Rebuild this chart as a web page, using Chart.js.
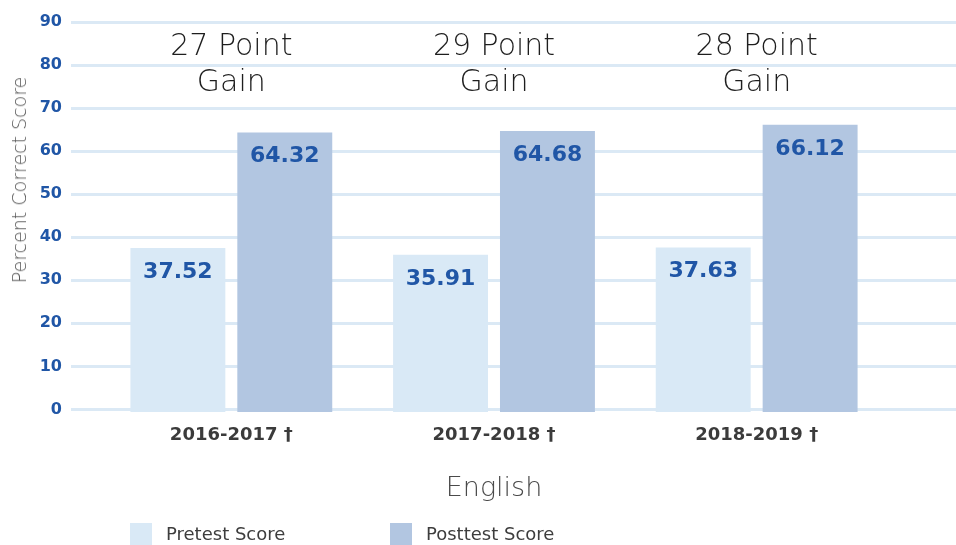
<!DOCTYPE html>
<html>
<head>
<meta charset="utf-8">
<script src="https://cdn.jsdelivr.net/npm/chart.js@4.4.0/dist/chart.umd.min.js"></script>
<style>
  html, body { margin: 0; padding: 0; background: #ffffff; }
  #wrap { position: relative; width: 956px; height: 545px; overflow: hidden; }
  #c { position: absolute; left: 0; top: 0; }
  #ytitle { position: absolute; left: 19px; top: 180px; transform: translate(-50%, -50%) rotate(-90deg);
            white-space: nowrap; font-family: 'DejaVu Sans', sans-serif; font-weight: 300; font-size: 19px; color: #555555; }
  .leg { position: absolute; top: 523px; height: 22px; display: flex; align-items: flex-start; }
  .leg .box { width: 22px; height: 22px; }
  .leg .txt { margin-left: 14px; margin-top: 2px; font-family: 'DejaVu Sans', sans-serif; font-size: 18px; line-height: 18px; color: #3d3d3d; white-space: nowrap; }
</style>
</head>
<body>
<div id="wrap">
  <canvas id="c" width="956" height="545"></canvas>
  <div id="ytitle">Percent Correct Score</div>
  <div id="legend"></div>
</div>
<script>
const categories = ['2016-2017 †', '2017-2018 †', '2018-2019 †'];
const pretestScores = [37.52, 35.91, 37.63];
const posttestScores = [64.32, 64.68, 66.12];
const pointGains = [27, 29, 28];
const yTickValues = [0, 10, 20, 30, 40, 50, 60, 70, 80, 90];
const seriesNames = ['Pretest Score', 'Posttest Score'];
const xTitle = 'English';

const COLORS = { pre: '#d9e9f6', post: '#b2c6e1', grid: '#dbe9f5', blue: '#2056a6', dark: '#3b3b3b' };
const FONT = "'DejaVu Sans', sans-serif";

const setTicks = (scale) => { scale.ticks = yTickValues.map(v => ({ value: v })); };

const labelPlugin = {
  id: 'labels',
  afterDatasetsDraw(chart) {
    const ctx = chart.ctx;
    ctx.save();
    ctx.textAlign = 'center';
    ctx.textBaseline = 'middle';
    ctx.fillStyle = COLORS.blue;
    ctx.font = "bold 22px " + FONT;
    chart.data.datasets.forEach((ds, di) => {
      const meta = chart.getDatasetMeta(di);
      meta.data.forEach((bar, i) => {
        ctx.fillText(ds.data[i].toFixed(2), bar.x, bar.y + 24);
      });
    });
    // gain annotations
    const xs = chart.scales.x;
    const top = chart.chartArea.top;
    ctx.fillStyle = '#1e1e1e';
    ctx.font = "300 30px " + FONT;
    ctx.textBaseline = 'alphabetic';
    pointGains.forEach((g, i) => {
      const x = xs.getPixelForValue(i);
      ctx.fillText(g + ' Point', x, top + 33);
      ctx.fillText('Gain', x, top + 69);
    });
    ctx.restore();
  }
};

const chart = new Chart(document.getElementById('c'), {
  type: 'bar',
  data: {
    labels: categories,
    datasets: [
      { label: seriesNames[0], data: pretestScores, backgroundColor: COLORS.pre, base: -0.6,
        categoryPercentage: 0.814, barPercentage: 0.888 },
      { label: seriesNames[1], data: posttestScores, backgroundColor: COLORS.post, base: -0.6,
        categoryPercentage: 0.814, barPercentage: 0.888 }
    ]
  },
  options: {
    responsive: false,
    animation: false,
    events: [],
    layout: { padding: { top: 22, bottom: 40, left: 0, right: 0 } },
    plugins: { legend: { display: false }, tooltip: { enabled: false }, title: { display: false } },
    scales: {
      x: {
        grid: { display: false, drawTicks: false },
        border: { display: false },
        ticks: { color: COLORS.dark, font: { family: FONT, size: 18, weight: 'bold' }, padding: 13 },
        title: { display: true, text: xTitle, color: '#4a4a4a', font: { family: FONT, size: 27, weight: 300 }, padding: { top: 0, bottom: 0 } },
        afterFit(scale) { scale.height = 93; }
      },
      y: {
        position: 'left',
        min: -0.6, max: 90,
        afterBuildTicks: setTicks,
        grid: { color: COLORS.grid, lineWidth: 3, drawTicks: true, tickLength: 29, tickColor: COLORS.grid, tickWidth: 3 },
        border: { display: false },
        ticks: { color: COLORS.blue, font: { family: FONT, size: 16, weight: 'bold' }, padding: 9 },
        afterFit(scale) { scale.width = 100; }
      },
      y2: {
        position: 'right',
        min: -0.6, max: 90,
        afterBuildTicks: setTicks,
        grid: { drawOnChartArea: false, drawTicks: true, tickLength: 68, tickColor: COLORS.grid, tickWidth: 3, color: COLORS.grid, lineWidth: 3 },
        border: { display: false },
        ticks: { display: false },
        afterFit(scale) { scale.width = 68; }
      }
    }
  },
  plugins: [labelPlugin]
});

// legend built from the chart's datasets
const legendEl = document.getElementById('legend');
const legendLefts = [130, 390];
chart.data.datasets.forEach((ds, i) => {
  const item = document.createElement('div');
  item.className = 'leg';
  item.style.left = legendLefts[i] + 'px';
  item.innerHTML = '<div class="box" style="background:' + ds.backgroundColor + '"></div><div class="txt">' + ds.label + '</div>';
  legendEl.appendChild(item);
});
</script>
</body>
</html>
